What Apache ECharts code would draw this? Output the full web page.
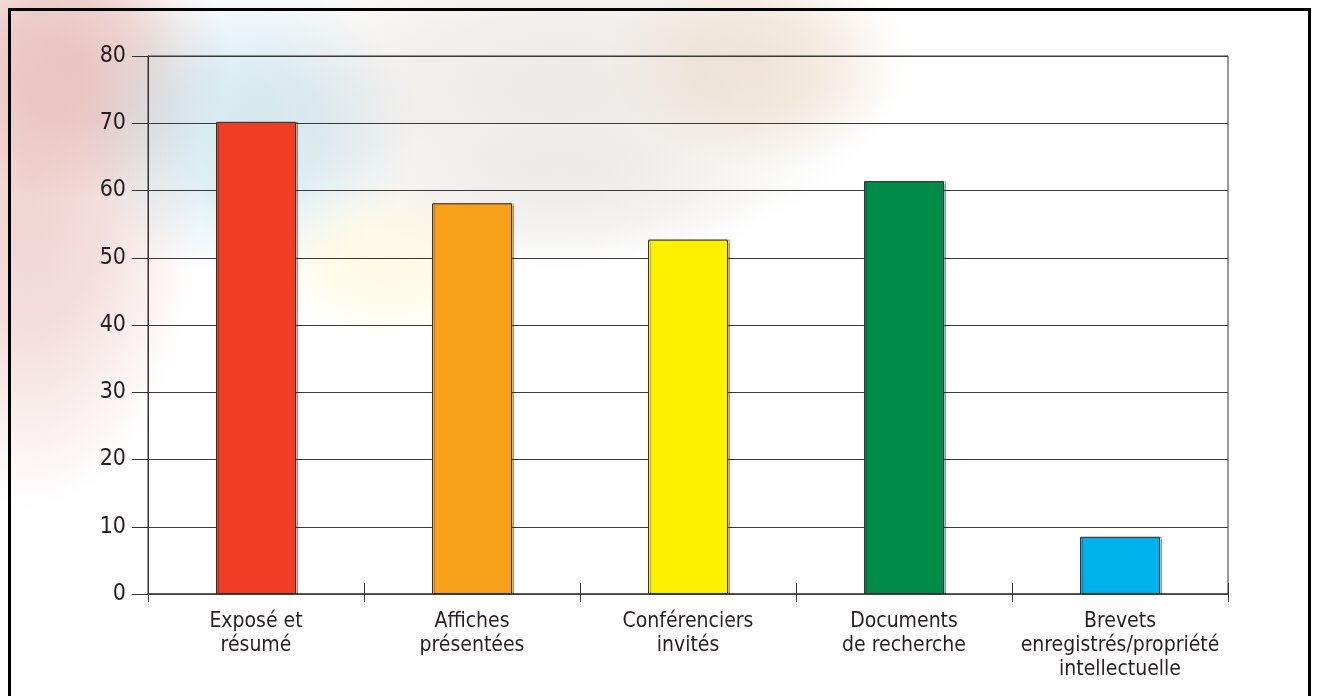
<!DOCTYPE html>
<html>
<head>
<meta charset="utf-8">
<script src="https://cdn.jsdelivr.net/npm/echarts@6/dist/echarts.min.js"></script>
<style>
html,body{margin:0;padding:0;background:#fff;}
#chart{width:1317px;height:696px;}
</style>
</head>
<body>
<div id="chart"></div>
<script>
const categories = [
  "Exposé et\nrésumé",
  "Affiches\nprésentées",
  "Conférenciers\ninvités",
  "Documents\nde recherche",
  "Brevets\nenregistrés/propriété\nintellectuelle"
];
const values = [70.2, 58.1, 52.7, 61.4, 8.5];
const barColors = ["#EF3E23", "#F7A11B", "#FFF100", "#008C48", "#00B2EB"];
const yTicks = [0, 10, 20, 30, 40, 50, 60, 70, 80];

const FONT = "'Liberation Sans Narrow', 'DejaVu Sans Condensed', 'Liberation Sans', sans-serif";
const chart = echarts.init(document.getElementById('chart'), null, {renderer: 'canvas'});

function blob(cx, cy, rx, ry, rgb, a) {
  return {
    type: 'circle', silent: true, z: -10,
    x: cx, y: cy, scaleX: 1, scaleY: ry / rx,
    shape: {cx: 0, cy: 0, r: rx},
    style: {
      fill: {
        type: 'radial', x: 0.5, y: 0.5, r: 0.5,
        colorStops: [
          {offset: 0, color: 'rgba(' + rgb + ',' + a + ')'},
          {offset: 0.45, color: 'rgba(' + rgb + ',' + (a * 0.75) + ')'},
          {offset: 1, color: 'rgba(' + rgb + ',0)'}
        ]
      }
    }
  };
}

chart.setOption({
  animation: false,
  backgroundColor: '#ffffff',
  graphic: [
    blob(30, 180, 170, 330, '228,175,170', 0.55),
    blob(80, 60, 150, 140, '220,165,160', 0.45),
    blob(250, 130, 170, 150, '175,215,228', 0.55),
    blob(560, 90, 330, 170, '215,208,200', 0.45),
    blob(760, 60, 150, 110, '232,208,180', 0.45),
    blob(390, 260, 140, 80, '255,246,210', 0.6),
    blob(560, 200, 220, 70, '225,220,215', 0.3),
    {
      type: 'polyline', silent: true, z: 100,
      shape: {points: [[9.5, 696], [9.5, 9.5], [1309.5, 9.5], [1309.5, 696]]},
      style: {stroke: '#000', lineWidth: 3, fill: null}
    }
  ],
  grid: {
    left: 148, right: 89, top: 56, bottom: 102,
    show: true, borderColor: '#333', borderWidth: 1, backgroundColor: 'transparent'
  },
  xAxis: [
    {
      type: 'category',
      data: categories,
      boundaryGap: true,
      axisLine: {show: true, lineStyle: {color: '#444', width: 1.5}},
      axisTick: {show: true, alignWithLabel: false, length: 8, lineStyle: {color: '#333'}},
      axisLabel: {
        color: '#231f20', fontFamily: FONT, fontSize: 21, lineHeight: 24,
        margin: 16, interval: 0
      },
      splitLine: {show: false}
    },
    {
      type: 'category',
      data: categories,
      position: 'bottom',
      boundaryGap: true,
      axisLine: {show: false},
      axisTick: {show: true, inside: true, length: 11, lineStyle: {color: '#333'}},
      axisLabel: {show: false},
      splitLine: {show: false}
    }
  ],
  yAxis: {
    type: 'value',
    min: yTicks[0], max: yTicks[yTicks.length - 1], interval: 10,
    axisLine: {show: true, lineStyle: {color: '#333'}},
    axisTick: {show: true, length: 16, lineStyle: {color: '#333'}},
    axisLabel: {color: '#231f20', fontFamily: FONT, fontSize: 23, margin: 22},
    splitLine: {show: true, lineStyle: {color: '#3a3a3a', width: 1}}
  },
  series: [{
    type: 'bar',
    xAxisIndex: 0,
    barWidth: 80,
    data: values.map((v, i) => ({
      value: v,
      itemStyle: {color: barColors[i]}
    })),
    itemStyle: {
      borderColor: '#333', borderWidth: 1,
      shadowColor: 'rgba(0,0,0,0.25)', shadowOffsetX: 2, shadowOffsetY: 0, shadowBlur: 1
    },
    label: {show: false}
  }]
});
</script>
</body>
</html>
